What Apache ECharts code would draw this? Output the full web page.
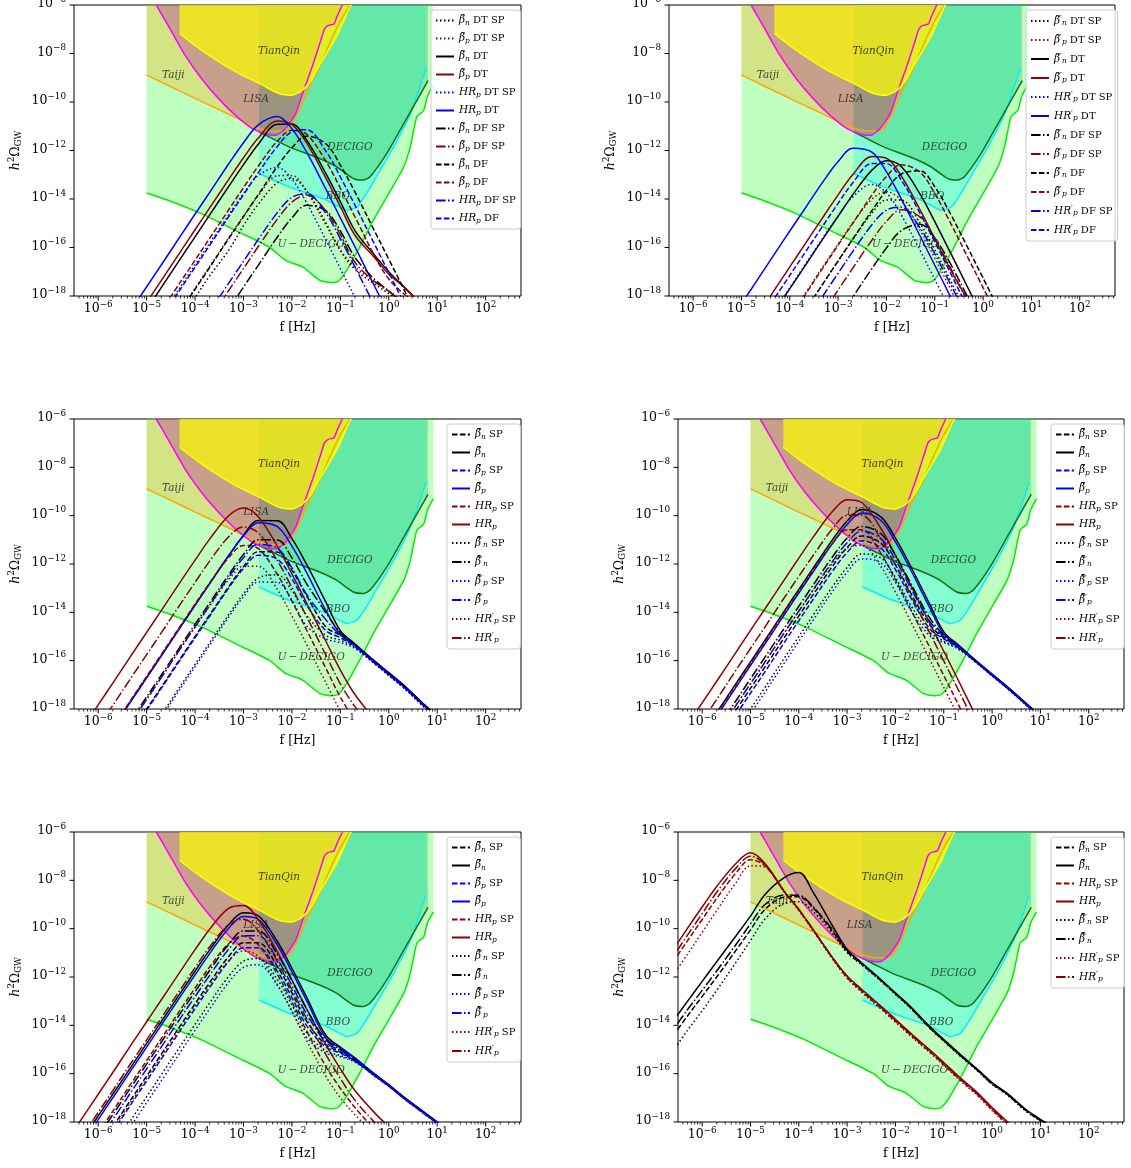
<!DOCTYPE html>
<html><head><meta charset="utf-8">
<script src="https://cdn.jsdelivr.net/npm/echarts@6/dist/echarts.min.js"></script>
<style>html,body{margin:0;padding:0;background:#fff}#c{width:1131px;height:1168px}</style>
</head><body><div id="c"></div>
<script>
const _ = null;
// shared frequency grid (Hz)
const F = [2e-7,5e-7,1e-6,2e-6,5e-6,1e-5,2e-5,5e-5,1e-4,2e-4,5e-4,1e-3,2e-3,5e-3,1e-2,2e-2,5e-2,0.1,0.2,0.5,1,2,5,10,20,50];
const XMIN = 3.162e-7, XMAX = 537, YMIN = 1e-18, YMAX = 1e-6;
const X_MAJOR = [1e-6,1e-5,1e-4,1e-3,1e-2,1e-1,1,10,100];
const X_MAJOR_EXP = ['−6','−5','−4','−3','−2','−1','0','1','2'];
const Y_MAJOR = [1e-18,1e-16,1e-14,1e-12,1e-10,1e-8,1e-6];
const Y_MAJOR_EXP = ['−18','−16','−14','−12','−10','−8','−6'];

// detector sensitivity curves
const UD_F = [1e-5,2.75e-5,1.35e-4,6.76e-4,3.39e-3,7.41e-3,1.66e-2,3.72e-2,6.31e-2,8.91e-2,0.135,0.251,0.479,0.912,2.04,2.82,3.8,5.25,6.31,8.32];
const UD_O = [1.78e-14,8.9e-15,2.5e-15,5.1e-16,1.05e-16,2.95e-17,1.58e-17,4.47e-18,3.55e-18,3.98e-18,1.15e-17,1.05e-16,1.32e-15,1.23e-14,2.14e-13,1.58e-12,2.5e-11,4.47e-11,1.78e-10,5.0e-10];
const BBO_F = [2.09e-3,8.71e-3,4.37e-2,8.32e-2,0.135,0.219,0.347,0.661,1.26,2.82,5.89];
const BBO_O = [1.12e-13,3.16e-14,1.05e-14,5.5e-15,3.47e-15,4.68e-15,1.7e-14,1.55e-13,1.41e-12,3.39e-11,2.5e-9];
const DEC_F = [2.09e-3,3.39e-3,8.71e-3,3.72e-2,8.32e-2,0.186,0.295,0.407,0.912,2.04,4.57,6.46];
const DEC_O = [5.9e-12,3.63e-12,1.41e-12,4.68e-13,2.14e-13,6.92e-14,6.03e-14,8.13e-14,7.59e-13,1.29e-11,2.24e-10,7.59e-10];
const TJ_F = [1e-5,3.16e-5,1e-4,3.16e-4,1e-3,2e-3,3.98e-3,6.31e-3,8.71e-3,1.41e-2,2.29e-2,3.72e-2,6.03e-2,9.77e-2,0.158];
const TJ_O = [1.29e-9,4.27e-10,1.41e-10,4.79e-11,1.58e-11,8.5e-12,6.3e-12,6.3e-12,7.6e-12,4.68e-11,4.27e-10,2.82e-9,2.63e-8,2.04e-7,1e-6];
const LISA_F = [1.58e-5,2.75e-5,6.17e-5,1.35e-4,3.02e-4,6.76e-4,1.51e-3,2.88e-3,4.68e-3,7.41e-3,1.2e-2,1.66e-2,2.69e-2,3.98e-2,4.68e-2,5.5e-2,7.41e-2,8.51e-2,0.11];
const LISA_O = [1e-6,1.48e-7,8.7e-9,9.3e-10,1.41e-10,2.88e-11,8.1e-12,4.68e-12,4.27e-12,8.1e-12,3.39e-11,2.24e-10,3.31e-9,3.63e-8,1e-7,1.41e-7,1.66e-7,3.31e-7,1e-6];
const TQ_F = [4.79e-5,1.35e-4,6.76e-4,2.45e-3,5.37e-3,1.02e-2,1.66e-2,2.51e-2,3.72e-2,8.32e-2,0.158,0.17];
const TQ_O = [6.76e-8,1.38e-8,1.78e-9,5.0e-10,2.24e-10,1.9e-10,3.09e-10,7.9e-10,3.31e-9,4.9e-8,8.5e-7,1e-6];
const DET_LABEL_NAMES = ['TianQin','Taiji','LISA','DECIGO','BBO','U\u2009−\u2009DECIGO'];
const DET_LABEL_F = [5.4e-3,3.55e-5,1.82e-3,0.158,8.9e-2,2.5e-2];
const DET_LABEL_O = [1.29e-8,1.32e-9,1.35e-10,1.41e-12,1.35e-14,1.41e-16];

// ---- panel 1 ----
const P1_bn_DTSP = [_,_,_,_,_,_,_,1.07e-19,8.5e-19,6.8e-18,7.9e-17,8.1e-16,5.9e-15,4.7e-14,6.9e-14,2.2e-14,1.05e-15,7.4e-17,1.26e-17,3.2e-18,1.26e-18,5.0e-19,_,_,_,_];
const P1_bp_DTSP = [_,_,_,_,_,_,_,2.6e-19,2.1e-18,1.66e-17,2.6e-16,2.0e-15,1.35e-14,9.1e-14,9.3e-14,2.1e-14,8.7e-16,7.9e-17,1.6e-17,4.0e-18,1.6e-18,6.3e-19,_,_,_,_];
const P1_bn_DT = [_,_,_,_,_,2.75e-19,2.2e-18,3.5e-17,2.75e-16,2.2e-15,3.4e-14,2.6e-13,1.78e-12,1.2e-11,1.23e-11,2.75e-12,1.15e-13,7.8e-15,5.0e-16,5.0e-17,1.0e-17,2.5e-18,4.0e-19,_,_,_];
const P1_bp_DT = [_,_,_,_,_,5.4e-19,4.3e-18,6.8e-17,5.4e-16,4.3e-15,6.6e-14,5.0e-13,3.2e-12,1.66e-11,1.17e-11,2.1e-12,7.4e-14,4.9e-15,3.2e-16,4.0e-17,7.9e-18,2.5e-18,4.0e-19,_,_,_];
const P1_HRp_DTSP = [_,_,_,_,_,_,1.55e-19,2.45e-18,1.95e-17,1.5e-16,2.3e-15,1.7e-14,9.1e-14,2.0e-13,6.5e-14,7.1e-15,2.1e-16,1.35e-17,8.7e-19,2.2e-20,_,_,_,_,_,_];
const P1_HRp_DT = [_,_,_,_,3.0e-19,2.4e-18,1.9e-17,3.0e-16,2.4e-15,1.86e-14,2.9e-13,2.1e-12,1.12e-11,2.5e-11,7.9e-12,8.7e-13,2.6e-14,1.66e-15,1.07e-16,2.7e-18,1.7e-19,_,_,_,_,_];
const P1_bn_DFSP = [_,_,_,_,_,_,_,_,_,_,2.95e-19,2.35e-18,1.8e-17,2.7e-16,1.66e-15,5.5e-15,3.3e-15,4.8e-16,3.9e-17,5.0e-18,1.6e-18,5.0e-19,_,_,_,_];
const P1_bp_DFSP = [_,_,_,_,_,_,_,_,_,1.1e-19,1.74e-18,1.35e-17,1.07e-16,1.48e-15,7.4e-15,1.45e-14,3.3e-15,3.4e-16,2.45e-17,4.0e-18,1.6e-18,5.0e-19,_,_,_,_];
const P1_bn_DF = [_,_,_,_,_,_,_,2.4e-19,1.9e-18,1.5e-17,2.4e-16,1.86e-15,1.48e-14,2.2e-13,1.29e-12,3.9e-12,1.9e-12,2.5e-13,1.95e-14,5.1e-16,3.3e-17,2.1e-18,5.4e-20,_,_,_];
const P1_bp_DF = [_,_,_,_,_,_,2.4e-19,3.8e-18,3.0e-17,2.4e-16,3.7e-15,2.95e-14,2.2e-13,2.45e-12,6.9e-12,4.7e-12,3.7e-13,2.8e-14,1.86e-15,4.8e-17,5.0e-18,1.26e-18,2.5e-19,_,_,_];
const P1_HRp_DFSP = [_,_,_,_,_,_,_,_,_,2.2e-19,3.5e-18,2.7e-17,2.1e-16,2.75e-15,1.17e-14,1.66e-14,2.6e-15,2.3e-16,1.6e-17,4.2e-19,_,_,_,_,_,_];
const P1_HRp_DF = [_,_,_,_,_,_,1.23e-19,1.95e-18,1.55e-17,1.23e-16,1.95e-15,1.5e-14,1.17e-13,1.48e-12,5.9e-12,7.2e-12,9.5e-13,8.1e-14,5.6e-15,1.45e-16,9.1e-18,5.8e-19,_,_,_,_];

// ---- panel 2 ----
const P2_bn_DTSP = [_,_,_,_,_,_,_,_,_,2.2e-19,3.5e-18,2.75e-17,2.1e-16,2.6e-15,9.1e-15,9.1e-15,9.8e-16,7.9e-17,5.4e-18,1.38e-19,_,_,_,_,_,_];
const P2_bp_DTSP = [_,_,_,_,_,_,_,_,1.4e-19,1.12e-18,1.78e-17,1.38e-16,1.02e-15,9.8e-15,2.0e-14,8.9e-15,5.1e-16,3.7e-17,2.4e-18,6.2e-20,_,_,_,_,_,_];
const P2_bn_DT = [_,_,_,_,_,_,_,2.5e-19,2.0e-18,1.58e-17,2.5e-16,1.95e-15,1.48e-14,1.55e-13,3.8e-13,2.24e-13,1.55e-14,1.17e-15,7.6e-17,1.95e-18,1.23e-19,_,_,_,_,_];
const P2_bp_DT = [_,_,_,_,_,_,1.26e-19,2.0e-18,1.58e-17,1.26e-16,1.95e-15,1.48e-14,1.0e-13,5.6e-13,4.8e-13,9.3e-14,3.5e-15,2.3e-16,1.5e-17,6.3e-19,1.0e-19,_,_,_,_,_];
const P2_HRp_DTSP = [_,_,_,_,_,_,_,2.8e-19,2.2e-18,1.78e-17,2.75e-16,2.0e-15,1.2e-14,4.0e-14,1.78e-14,2.3e-15,7.4e-17,4.8e-18,3.1e-19,_,_,_,_,_,_,_];
const P2_HRp_DT = [_,_,_,_,_,4.8e-19,3.8e-18,6.0e-17,4.8e-16,3.7e-15,5.6e-14,3.5e-13,1.23e-12,8.5e-13,1.32e-13,1.07e-14,2.9e-16,1.86e-17,1.17e-18,2.8e-20,_,_,_,_,_,_];
const P2_bn_DFSP = [_,_,_,_,_,_,_,_,_,_,_,1.1e-19,8.9e-19,1.35e-17,9.5e-17,4.9e-16,9.1e-16,2.45e-16,2.6e-17,7.6e-19,_,_,_,_,_,_];
const P2_bp_DFSP = [_,_,_,_,_,_,_,_,_,_,2.2e-19,1.78e-18,1.38e-17,2.0e-16,1.2e-15,3.6e-15,1.78e-15,2.3e-16,1.8e-17,4.8e-19,_,_,_,_,_,_];
const P2_bn_DF = [_,_,_,_,_,_,_,_,_,2.2e-19,3.5e-18,2.8e-17,2.2e-16,3.3e-15,2.3e-14,1.05e-13,1.45e-13,3.2e-14,3.0e-15,8.5e-17,5.5e-18,3.5e-19,_,_,_,_];
const P2_bp_DF = [_,_,_,_,_,_,_,_,1.26e-19,1.0e-18,1.58e-17,1.26e-16,9.8e-16,1.45e-14,8.5e-14,2.6e-13,1.26e-13,1.66e-14,1.29e-15,3.4e-17,2.2e-18,1.38e-19,_,_,_,_];
const P2_HRp_DFSP = [_,_,_,_,_,_,_,_,_,7.1e-20,1.12e-18,8.7e-18,6.8e-17,8.7e-16,3.5e-15,4.6e-15,6.3e-16,5.5e-17,3.8e-18,9.8e-20,_,_,_,_,_,_];
const P2_HRp_DF = [_,_,_,_,_,_,_,8.9e-19,7.1e-18,5.6e-17,8.7e-16,6.6e-15,4.6e-14,2.9e-13,2.9e-13,6.3e-14,2.5e-15,1.7e-16,1.1e-17,2.75e-19,_,_,_,_,_,_];

// ---- panel 3 ----
const P3_bnSP = [_,_,_,_,1.26e-19,1.0e-18,7.9e-18,1.26e-16,1.0e-15,7.8e-15,1.17e-13,7.8e-13,3.2e-12,3.1e-12,5.6e-13,4.9e-14,2.5e-15,1.12e-15,4.2e-16,8.7e-17,2.75e-17,8.7e-18,1.55e-18,4.4e-19,_,_];
const P3_bn = [_,_,_,1.58e-19,2.5e-18,2.0e-17,1.58e-16,2.5e-15,2.0e-14,1.55e-13,2.3e-12,1.55e-11,6.3e-11,6.2e-11,1.12e-11,9.8e-13,2.7e-14,1.74e-15,5.0e-16,1.0e-16,3.2e-17,1.0e-17,1.78e-18,5.0e-19,_,_];
const P3_bpSP = [_,_,_,_,_,8.9e-19,7.1e-18,1.12e-16,8.9e-16,6.9e-15,1.05e-13,6.5e-13,2.3e-12,1.58e-12,2.45e-13,2.0e-14,1.78e-15,8.9e-16,3.8e-16,8.3e-17,2.6e-17,8.3e-18,1.48e-18,4.2e-19,_,_];
const P3_bp = [_,_,_,1.58e-19,2.5e-18,2.0e-17,1.58e-16,2.5e-15,2.0e-14,1.55e-13,2.3e-12,1.45e-11,5.1e-11,3.5e-11,5.5e-12,4.5e-13,1.2e-14,1.26e-15,4.5e-16,9.3e-17,3.0e-17,9.5e-18,1.7e-18,4.8e-19,_,_];
const P3_HRpSP = [_,_,_,1.78e-19,2.8e-18,2.24e-17,1.78e-16,2.8e-15,2.2e-14,1.66e-13,1.9e-12,5.8e-12,4.4e-12,3.7e-13,2.9e-14,1.9e-15,4.9e-17,3.1e-18,3.2e-19,_,_,_,_,_,_,_];
const P3_HRp = [_,1.86e-19,1.48e-18,1.17e-17,1.86e-16,1.48e-15,1.17e-14,1.86e-13,1.45e-12,1.07e-11,1.02e-10,2.1e-10,9.3e-11,5.4e-12,3.9e-13,2.5e-14,6.5e-16,4.1e-17,4.0e-18,4.0e-19,_,_,_,_,_,_];
const P3_bnpSP = [_,_,_,_,_,_,5.6e-19,8.9e-18,7.1e-17,5.5e-16,8.3e-15,5.8e-14,2.6e-13,3.6e-13,7.9e-14,7.6e-15,1.12e-15,7.1e-16,3.5e-16,7.9e-17,2.5e-17,7.9e-18,1.41e-18,4.0e-19,_,_];
const P3_bnp = [_,_,_,_,4.0e-19,3.2e-18,2.5e-17,4.0e-16,3.2e-15,2.45e-14,3.7e-13,2.45e-12,1.0e-11,9.8e-12,1.78e-12,1.55e-13,1.0e-14,1.41e-15,4.7e-16,9.5e-17,3.0e-17,9.5e-18,1.7e-18,4.8e-19,_,_];
const P3_bppSP = [_,_,_,_,_,_,4.5e-19,7.1e-18,5.6e-17,4.4e-16,6.6e-15,4.4e-14,1.78e-13,1.74e-13,3.2e-14,2.75e-15,7.9e-16,5.6e-16,3.2e-16,7.6e-17,2.4e-17,7.6e-18,1.35e-18,3.8e-19,_,_];
const P3_bpp = [_,_,_,_,3.2e-19,2.5e-18,2.0e-17,3.2e-16,2.5e-15,1.95e-14,2.95e-13,1.82e-12,6.5e-12,4.5e-12,6.9e-13,5.6e-14,5.0e-15,1.12e-15,4.2e-16,8.9e-17,2.8e-17,8.9e-18,1.58e-18,4.5e-19,_,_];
const P3_HRppSP = [_,_,_,_,3.2e-19,2.5e-18,2.0e-17,3.2e-16,2.45e-15,1.86e-14,2.3e-13,8.1e-13,8.1e-13,8.7e-14,7.1e-15,4.8e-16,1.23e-17,7.8e-19,_,_,_,_,_,_,_,_];
const P3_HRpp = [_,_,1.78e-19,1.41e-18,2.24e-17,1.78e-16,1.41e-15,2.24e-14,1.74e-13,1.32e-12,1.38e-11,3.4e-11,2.0e-11,1.38e-12,1.05e-13,6.8e-15,1.74e-16,1.1e-17,1.26e-18,1.26e-19,_,_,_,_,_,_];

// ---- panel 4 ----
const P4_bnSP = [_,_,_,_,8.9e-19,7.1e-18,5.6e-17,8.9e-16,7.1e-15,5.5e-14,8.1e-13,4.8e-12,1.45e-11,7.1e-12,9.3e-13,7.2e-14,3.2e-15,8.9e-16,3.6e-16,7.9e-17,2.5e-17,7.9e-18,1.58e-18,4.5e-19,_,_];
const P4_bn = [_,_,8.9e-20,7.1e-19,1.12e-17,8.9e-17,7.1e-16,1.12e-14,8.9e-14,6.9e-13,1.02e-11,6.0e-11,1.82e-10,8.9e-11,1.17e-11,9.1e-13,2.4e-14,1.55e-15,4.5e-16,8.9e-17,2.8e-17,8.9e-18,1.78e-18,5.0e-19,_,_];
const P4_bpSP = [_,_,_,_,5.6e-19,4.5e-18,3.5e-17,5.6e-16,4.5e-15,3.5e-14,5.1e-13,3.0e-12,9.1e-12,4.5e-12,5.9e-13,4.6e-14,2.2e-15,7.9e-16,3.5e-16,7.8e-17,2.45e-17,7.8e-18,1.55e-18,4.4e-19,_,_];
const P4_bp = [_,_,_,5.0e-19,7.9e-18,6.3e-17,5.0e-16,7.9e-15,6.3e-14,4.9e-13,7.2e-12,4.3e-11,1.29e-10,6.3e-11,8.3e-12,6.5e-13,1.7e-14,1.26e-15,4.2e-16,8.5e-17,2.7e-17,8.5e-18,1.7e-18,4.8e-19,_,_];
const P4_HRpSP = [_,_,_,6.3e-19,1.0e-17,7.9e-17,6.3e-16,1.0e-14,7.8e-14,5.9e-13,7.2e-12,2.6e-11,2.6e-11,2.75e-12,2.2e-13,1.51e-14,3.9e-16,2.45e-17,1.55e-18,3.7e-20,_,_,_,_,_,_];
const P4_HRp = [_,2.2e-19,1.78e-18,1.41e-17,2.2e-16,1.78e-15,1.41e-14,2.2e-13,1.74e-12,1.32e-11,1.51e-10,4.6e-10,3.5e-10,2.95e-11,2.3e-12,1.51e-13,3.9e-15,2.45e-16,1.55e-17,3.7e-19,_,_,_,_,_,_];
const P4_bnpSP = [_,_,_,_,1.26e-19,1.0e-18,7.9e-18,1.26e-16,1.0e-15,7.8e-15,1.17e-13,7.2e-13,2.6e-12,1.78e-12,2.75e-13,2.2e-14,1.58e-15,6.3e-16,3.2e-16,7.6e-17,2.4e-17,7.6e-18,1.51e-18,4.3e-19,_,_];
const P4_bnp = [_,_,_,1.41e-19,2.2e-18,1.78e-17,1.41e-16,2.2e-15,1.78e-14,1.38e-13,2.0e-12,1.2e-11,3.6e-11,1.78e-11,2.3e-12,1.82e-13,6.3e-15,1.12e-15,4.0e-16,8.3e-17,2.6e-17,8.3e-18,1.66e-18,4.7e-19,_,_];
const P4_bppSP = [_,_,_,_,_,6.3e-19,5.0e-18,7.9e-17,6.3e-16,4.9e-15,7.4e-14,4.6e-13,1.62e-12,1.12e-12,1.74e-13,1.41e-14,1.12e-15,5.6e-16,3.0e-16,7.4e-17,2.35e-17,7.4e-18,1.48e-18,4.2e-19,_,_];
const P4_bpp = [_,_,_,8.9e-20,1.41e-18,1.12e-17,8.9e-17,1.41e-15,1.12e-14,8.7e-14,1.29e-12,7.6e-12,2.3e-11,1.12e-11,1.48e-12,1.15e-13,4.5e-15,1.0e-15,3.8e-16,8.1e-17,2.6e-17,8.1e-18,1.62e-18,4.6e-19,_,_];
const P4_HRppSP = [_,_,_,8.9e-20,1.41e-18,1.12e-17,8.9e-17,1.41e-15,1.1e-14,8.5e-14,1.1e-12,4.5e-12,5.8e-12,7.9e-13,6.9e-14,4.8e-15,1.23e-16,7.8e-18,4.9e-19,_,_,_,_,_,_,_];
const P4_HRpp = [_,_,3.2e-19,2.5e-18,4.0e-17,3.2e-16,2.5e-15,4.0e-14,3.1e-13,2.3e-12,2.9e-11,1.02e-10,1.02e-10,1.1e-11,8.9e-13,6.0e-14,1.55e-15,9.8e-17,6.2e-18,1.48e-19,_,_,_,_,_,_];

// ---- panel 5 ----
const P5_bnSP = [_,_,_,6.3e-19,1.0e-17,7.9e-17,6.3e-16,1.0e-14,7.8e-14,5.9e-13,7.2e-12,2.6e-11,2.6e-11,2.75e-12,2.2e-13,1.51e-14,1.58e-15,7.9e-16,3.5e-16,8.9e-17,3.2e-17,1.02e-17,2.6e-18,9.1e-19,2.9e-19,_];
const P5_bn = [_,2.2e-19,1.78e-18,1.41e-17,2.2e-16,1.78e-15,1.41e-14,2.2e-13,1.74e-12,1.32e-11,1.51e-10,4.6e-10,3.5e-10,2.95e-11,2.3e-12,1.51e-13,3.9e-15,1.26e-15,4.5e-16,1.0e-16,3.5e-17,1.12e-17,2.8e-18,1.0e-18,3.2e-19,_];
const P5_bpSP = [_,_,_,4.0e-19,6.3e-18,5.0e-17,4.0e-16,6.3e-15,4.9e-14,3.7e-13,4.6e-12,1.62e-11,1.62e-11,1.74e-12,1.41e-13,1.0e-14,1.26e-15,7.1e-16,3.4e-16,8.7e-17,3.1e-17,1.0e-17,2.5e-18,8.9e-19,2.8e-19,_];
const P5_bp = [_,1.58e-19,1.26e-18,1.0e-17,1.58e-16,1.26e-15,1.0e-14,1.58e-13,1.23e-12,9.3e-12,1.07e-10,3.2e-10,2.45e-10,2.1e-11,1.62e-12,1.07e-13,3.0e-15,1.15e-15,4.3e-16,9.8e-17,3.4e-17,1.1e-17,2.75e-18,9.8e-19,3.1e-19,_];
const P5_HRpSP = [_,_,3.5e-19,2.8e-18,4.5e-17,3.5e-16,2.8e-15,4.5e-14,3.5e-13,2.6e-12,2.45e-11,5.0e-11,2.2e-11,1.29e-12,9.3e-14,6.0e-15,2.0e-16,2.5e-17,4.0e-18,5.0e-19,_,_,_,_,_,_];
const P5_HRp = [1.12e-19,1.78e-18,1.41e-17,1.12e-16,1.78e-15,1.41e-14,1.12e-13,1.74e-12,1.35e-11,9.5e-11,7.1e-10,9.1e-10,2.45e-10,1.1e-11,7.6e-13,4.9e-14,1.58e-15,1.58e-16,2.0e-17,2.5e-18,6.3e-19,_,_,_,_,_];
const P5_bnpSP = [_,_,_,8.9e-20,1.41e-18,1.12e-17,8.9e-17,1.41e-15,1.1e-14,8.5e-14,1.1e-12,4.5e-12,5.8e-12,7.9e-13,6.9e-14,5.0e-15,8.9e-16,5.6e-16,3.2e-16,8.3e-17,3.0e-17,9.8e-18,2.45e-18,8.7e-19,2.75e-19,_];
const P5_bnp = [_,_,2.5e-19,2.0e-18,3.2e-17,2.5e-16,2.0e-15,3.2e-14,2.45e-13,1.86e-12,2.3e-11,8.1e-11,8.1e-11,8.7e-12,7.1e-13,4.8e-14,2.5e-15,1.0e-15,4.0e-16,9.3e-17,3.3e-17,1.07e-17,2.7e-18,9.5e-19,3.0e-19,_];
const P5_bppSP = [_,_,_,_,7.9e-19,6.3e-18,5.0e-17,7.9e-16,6.2e-15,4.8e-14,6.2e-13,2.5e-12,3.2e-12,4.5e-13,3.9e-14,3.2e-15,7.1e-16,5.0e-16,3.0e-16,8.1e-17,3.0e-17,9.5e-18,2.4e-18,8.5e-19,2.7e-19,_];
const P5_bpp = [_,_,1.58e-19,1.26e-18,2.0e-17,1.58e-16,1.26e-15,2.0e-14,1.55e-13,1.17e-12,1.45e-11,5.1e-11,5.1e-11,5.5e-12,4.5e-13,3.0e-14,2.0e-15,8.9e-16,3.8e-16,9.1e-17,3.2e-17,1.05e-17,2.6e-18,9.3e-19,3.0e-19,_];
const P5_HRppSP = [_,_,_,5.0e-19,7.9e-18,6.3e-17,5.0e-16,7.9e-15,6.2e-14,4.7e-13,4.9e-12,1.2e-11,7.1e-12,4.9e-13,3.7e-14,2.4e-15,7.9e-17,1.0e-17,2.0e-18,3.2e-19,_,_,_,_,_,_];
const P5_HRpp = [_,3.2e-19,2.5e-18,2.0e-17,3.2e-16,2.5e-15,2.0e-14,3.1e-13,2.45e-12,1.78e-11,1.48e-10,2.45e-10,8.3e-11,4.3e-12,3.0e-13,1.95e-14,6.3e-16,6.3e-17,7.9e-18,1.0e-18,2.5e-19,_,_,_,_,_];

// ---- panel 6 ----
const P6_bnSP = [2.0e-15,2.5e-14,1.58e-13,1.0e-12,1.26e-11,8.9e-11,6.3e-10,2.0e-9,2.1e-9,7.1e-10,7.9e-11,1.12e-11,3.4e-12,7.1e-13,2.0e-13,5.6e-14,8.3e-15,2.3e-15,6.6e-16,1.35e-16,3.8e-17,1.45e-17,3.0e-18,1.15e-18,4.5e-19,_];
const P6_bn = [8.1e-15,1.0e-13,6.6e-13,4.3e-12,5.0e-11,3.3e-10,2.6e-9,1.29e-8,2.1e-8,3.1e-9,1.29e-10,1.38e-11,3.9e-12,7.9e-13,2.2e-13,6.3e-14,9.3e-15,2.6e-15,7.4e-16,1.5e-16,4.3e-17,1.6e-17,3.3e-18,1.29e-18,5.0e-19,_];
const P6_HRpSP = [2.2e-12,3.2e-11,2.4e-10,1.78e-9,2.0e-8,7.1e-8,4.0e-8,3.4e-9,6.0e-10,8.5e-11,5.9e-12,9.5e-13,2.6e-13,5.2e-14,1.48e-14,4.2e-15,8.5e-16,2.4e-16,6.6e-17,1.35e-17,3.3e-18,9.1e-19,2.1e-19,_,_,_];
const P6_HRp = [6.9e-12,1.05e-10,7.9e-10,5.6e-9,5.0e-8,1.38e-7,5.0e-8,3.5e-9,6.3e-10,8.9e-11,6.3e-12,1.1e-12,3.1e-13,6.3e-14,1.78e-14,5.0e-15,1.02e-15,2.9e-16,7.9e-17,1.6e-17,4.0e-18,1.1e-18,2.5e-19,_,_,_];
const P6_bnpSP = [4.5e-16,6.3e-15,4.0e-14,2.8e-13,4.0e-12,3.2e-11,2.5e-10,1.12e-9,1.3e-9,5.0e-10,6.3e-11,1.0e-11,3.2e-12,6.8e-13,1.9e-13,5.4e-14,7.9e-15,2.2e-15,6.3e-16,1.29e-16,3.6e-17,1.38e-17,2.8e-18,1.1e-18,4.3e-19,_];
const P6_bnp = [3.5e-15,4.5e-14,2.8e-13,1.78e-12,2.2e-11,1.58e-10,1.0e-9,2.5e-9,2.4e-9,7.9e-10,8.9e-11,1.26e-11,3.6e-12,7.4e-13,2.1e-13,5.9e-14,8.7e-15,2.45e-15,6.9e-16,1.41e-16,4.0e-17,1.5e-17,3.1e-18,1.2e-18,4.7e-19,_];
const P6_HRppSP = [6.3e-13,8.9e-12,7.1e-11,5.6e-10,7.9e-9,4.0e-8,3.5e-8,3.2e-9,5.6e-10,7.9e-11,5.5e-12,8.7e-13,2.3e-13,4.8e-14,1.35e-14,3.8e-15,7.8e-16,2.2e-16,6.0e-17,1.23e-17,3.0e-18,8.3e-19,1.9e-19,_,_,_];
const P6_HRpp = [3.5e-12,5.5e-11,4.2e-10,3.2e-9,3.2e-8,1.0e-7,4.5e-8,3.5e-9,6.3e-10,8.9e-11,6.3e-12,1.05e-12,2.8e-13,5.8e-14,1.62e-14,4.6e-15,9.3e-16,2.6e-16,7.2e-17,1.48e-17,3.6e-18,1.0e-18,2.3e-19,_,_,_];

const COL = {k:'#000000', r:'#8b0000', b:'#0000ff'};
const DASH = {solid:'solid', dot:[1.5,2.5], dash:[5.5,2.4], dashdot:[9.6,2.4,1.5,2.4]};
const BT = 'β\u0303', BB = 'β\u0303\u0304';
function L(sym, pr, sub, txt){ return '{g|'+sym+'}'+(pr?'{q|′}':'')+'{s|'+sub+'}'+(txt?'{t| '+txt+'}':''); }
function sixDefs(d){ return [
  [L(BB,0,'n','SP'),'k','dash',d[0]],[L(BB,0,'n',''),'k','solid',d[1]],
  [L(BB,0,'p','SP'),'b','dash',d[2]],[L(BB,0,'p',''),'b','solid',d[3]],
  [L('HR',0,'p','SP'),'r','dash',d[4]],[L('HR',0,'p',''),'r','solid',d[5]],
  [L(BB,1,'n','SP'),'k','dot',d[6]],[L(BB,1,'n',''),'k','dashdot',d[7]],
  [L(BB,1,'p','SP'),'b','dot',d[8]],[L(BB,1,'p',''),'b','dashdot',d[9]],
  [L('HR',1,'p','SP'),'r','dot',d[10]],[L('HR',1,'p',''),'r','dashdot',d[11]]]; }

const PANELS = [
 {grid:{left:74,top:5,width:447,height:291}, leg:{left:431,top:10}, defs:[
  [L(BT,0,'n','DT SP'),'k','dot',P1_bn_DTSP],[L(BT,0,'p','DT SP'),'r','dot',P1_bp_DTSP],
  [L(BT,0,'n','DT'),'k','solid',P1_bn_DT],[L(BT,0,'p','DT'),'r','solid',P1_bp_DT],
  [L('HR',0,'p','DT SP'),'b','dot',P1_HRp_DTSP],[L('HR',0,'p','DT'),'b','solid',P1_HRp_DT],
  [L(BT,0,'n','DF SP'),'k','dashdot',P1_bn_DFSP],[L(BT,0,'p','DF SP'),'r','dashdot',P1_bp_DFSP],
  [L(BT,0,'n','DF'),'k','dash',P1_bn_DF],[L(BT,0,'p','DF'),'r','dash',P1_bp_DF],
  [L('HR',0,'p','DF SP'),'b','dashdot',P1_HRp_DFSP],[L('HR',0,'p','DF'),'b','dash',P1_HRp_DF]]},
 {grid:{left:669,top:5,width:446,height:291}, leg:{left:1026,top:10}, defs:[
  [L(BT,1,'n','DT SP'),'k','dot',P2_bn_DTSP],[L(BT,1,'p','DT SP'),'r','dot',P2_bp_DTSP],
  [L(BT,1,'n','DT'),'k','solid',P2_bn_DT],[L(BT,1,'p','DT'),'r','solid',P2_bp_DT],
  [L('HR',1,'p','DT SP'),'b','dot',P2_HRp_DTSP],[L('HR',1,'p','DT'),'b','solid',P2_HRp_DT],
  [L(BT,1,'n','DF SP'),'k','dashdot',P2_bn_DFSP],[L(BT,1,'p','DF SP'),'r','dashdot',P2_bp_DFSP],
  [L(BT,1,'n','DF'),'k','dash',P2_bn_DF],[L(BT,1,'p','DF'),'r','dash',P2_bp_DF],
  [L('HR',1,'p','DF SP'),'b','dashdot',P2_HRp_DFSP],[L('HR',1,'p','DF'),'b','dash',P2_HRp_DF]]},
 {grid:{left:74,top:419,width:447,height:290}, leg:{left:447,top:424},
  defs:sixDefs([P3_bnSP,P3_bn,P3_bpSP,P3_bp,P3_HRpSP,P3_HRp,P3_bnpSP,P3_bnp,P3_bppSP,P3_bpp,P3_HRppSP,P3_HRpp])},
 {grid:{left:678,top:419,width:446,height:290}, leg:{left:1051,top:424},
  defs:sixDefs([P4_bnSP,P4_bn,P4_bpSP,P4_bp,P4_HRpSP,P4_HRp,P4_bnpSP,P4_bnp,P4_bppSP,P4_bpp,P4_HRppSP,P4_HRpp])},
 {grid:{left:74,top:832,width:447,height:290}, leg:{left:447,top:837},
  defs:sixDefs([P5_bnSP,P5_bn,P5_bpSP,P5_bp,P5_HRpSP,P5_HRp,P5_bnpSP,P5_bnp,P5_bppSP,P5_bpp,P5_HRppSP,P5_HRpp])},
 {grid:{left:678,top:832,width:446,height:290}, leg:{left:1051,top:837}, defs:[
  [L(BB,0,'n','SP'),'k','dash',P6_bnSP],[L(BB,0,'n',''),'k','solid',P6_bn],
  [L('HR',0,'p','SP'),'r','dash',P6_HRpSP],[L('HR',0,'p',''),'r','solid',P6_HRp],
  [L(BB,1,'n','SP'),'k','dot',P6_bnpSP],[L(BB,1,'n',''),'k','dashdot',P6_bnp],
  [L('HR',1,'p','SP'),'r','dot',P6_HRppSP],[L('HR',1,'p',''),'r','dashdot',P6_HRpp]]}
];

const DETS = [
 {f:UD_F,o:UD_O,line:'#00ee00',fill:'rgba(0,255,0,0.25)'},
 {f:BBO_F,o:BBO_O,line:'#00eeff',fill:'rgba(0,255,255,0.3)'},
 {f:DEC_F,o:DEC_O,line:'#127012',fill:'rgba(27,178,70,0.3)'},
 {f:TJ_F,o:TJ_O,line:'#ffa500',fill:'rgba(255,165,0,0.3)'},
 {f:LISA_F,o:LISA_O,line:'#ff00ff',fill:'rgba(177,0,154,0.3)'},
 {f:TQ_F,o:TQ_O,line:'#ffff00',fill:'rgba(255,255,0,0.7)'}
];

const SERIF = 'DejaVu Serif';
const LEG_RICH = {
  g:{fontFamily:SERIF,fontStyle:'italic',fontSize:10.5,color:'#000',lineHeight:14},
  q:{fontFamily:SERIF,fontSize:8,color:'#000',padding:[0,0,6,0],lineHeight:14},
  s:{fontFamily:SERIF,fontStyle:'italic',fontSize:7.5,color:'#000',padding:[5,0,0,0],lineHeight:14},
  t:{fontFamily:SERIF,fontSize:10,color:'#000',lineHeight:14}
};
const TICK_RICH = {
  b:{fontFamily:SERIF,fontSize:12.5,fill:'#000'},
  s:{fontFamily:SERIF,fontSize:8.8,fill:'#000',padding:[0,0,9,0]}
};

function pairs(xs, ys){ const out=[]; for(let i=0;i<xs.length;i++){ if(ys[i]!=null) out.push([xs[i], ys[i]]); } return out; }

const grids=[], xAxes=[], yAxes=[], series=[], legends=[];
PANELS.forEach((P, gi) => {
  grids.push(Object.assign({show:true, borderColor:'#000', borderWidth:1, backgroundColor:'#fff'}, P.grid));
  xAxes.push({type:'log', logBase:10, gridIndex:gi, min:XMIN, max:XMAX,
    axisLine:{show:false}, axisTick:{show:false}, axisLabel:{show:false}, splitLine:{show:false},
    name:'f [Hz]', nameLocation:'middle', nameGap:25, nameTextStyle:{fontFamily:SERIF, fontSize:12.5, color:'#000'}});
  yAxes.push({type:'log', logBase:10, gridIndex:gi, min:YMIN, max:YMAX,
    axisLine:{show:false}, axisTick:{show:false}, axisLabel:{show:false}, splitLine:{show:false},
    name:'{i|h}{p|2}{o|Ω}{s|GW}', nameLocation:'middle', nameGap:50,
    nameTextStyle:{fontFamily:SERIF, fontSize:12.5, color:'#000', rich:{
      i:{fontFamily:SERIF,fontStyle:'italic',fontSize:12.5}, p:{fontFamily:SERIF,fontSize:8.5,padding:[0,0,8,0]},
      o:{fontFamily:SERIF,fontSize:12.5}, s:{fontFamily:SERIF,fontSize:8.5,padding:[6,0,0,0]}}}});
  DETS.forEach(d => series.push({type:'line', xAxisIndex:gi, yAxisIndex:gi, data:pairs(d.f,d.o), symbol:'none',
    smooth:0.2, silent:true, z:1, lineStyle:{color:d.line, width:1.5}, areaStyle:{color:d.fill, origin:'end', opacity:1}}));
  series.push({type:'scatter', xAxisIndex:gi, yAxisIndex:gi, silent:true, z:2, symbolSize:1,
    itemStyle:{color:'rgba(0,0,0,0)'},
    data: DET_LABEL_NAMES.map((n,i)=>({name:n, value:[DET_LABEL_F[i], DET_LABEL_O[i]]})),
    label:{show:true, position:'inside', formatter:'{b}', fontFamily:SERIF, fontStyle:'italic', fontSize:10.5, color:'#1a1a1a'}});
  const names=[];
  P.defs.forEach((d, k) => {
    const nm = d[0] + '\u200b'.repeat(gi);
    names.push(nm);
    series.push({type:'line', name:nm, xAxisIndex:gi, yAxisIndex:gi, data:pairs(F, d[3]), symbol:'none',
      smooth:0.35, silent:true, z:5, clip:true,
      lineStyle:{color:COL[d[1]], width:1.5, type:DASH[d[2]]}, itemStyle:{color:COL[d[1]]}});
  });
  legends.push({orient:'vertical', left:P.leg.left, top:P.leg.top, data:names, selectedMode:false,
    itemWidth:18, itemHeight:10, itemGap:5, padding:[4,5,4,4],
    itemStyle:{color:'rgba(0,0,0,0)', borderColor:'rgba(0,0,0,0)', borderWidth:0, opacity:0},
    backgroundColor:'rgba(255,255,255,0.8)', borderColor:'#cccccc', borderWidth:1, borderRadius:3,
    formatter: n => n.replace(/\u200b/g,''),
    textStyle:{fontFamily:SERIF, fontSize:10, color:'#000', rich:LEG_RICH}});
  series.push({type:'custom', xAxisIndex:gi, yAxisIndex:gi, silent:true, z:20, clip:false,
    data:[[XMIN, YMIN]],
    renderItem:function(params, api){
      const ch=[];
      const lb = api.coord([XMIN, YMIN]);
      const left = lb[0], bottom = lb[1];
      X_MAJOR.forEach((v,i)=>{
        const x = api.coord([v, YMIN])[0];
        ch.push({type:'line', shape:{x1:x,y1:bottom,x2:x,y2:bottom+4.5}, style:{stroke:'#000',lineWidth:1}});
        ch.push({type:'text', x:x, y:bottom+13, style:{text:'{b|10}{s|'+X_MAJOR_EXP[i]+'}', rich:TICK_RICH, align:'center', verticalAlign:'middle', fill:'#000'}});
      });
      for(let k=-7;k<=2;k++){
        for(let m=2;m<=9;m++){
          const v = m*Math.pow(10,k);
          if(v<=XMIN || v>=XMAX) continue;
          const x = api.coord([v, YMIN])[0];
          ch.push({type:'line', shape:{x1:x,y1:bottom,x2:x,y2:bottom+2.5}, style:{stroke:'#000',lineWidth:0.8}});
        }
      }
      Y_MAJOR.forEach((v,i)=>{
        const y = api.coord([XMIN, v])[1];
        ch.push({type:'line', shape:{x1:left-4.5,y1:y,x2:left,y2:y}, style:{stroke:'#000',lineWidth:1}});
        ch.push({type:'text', x:left-8, y:y-1, style:{text:'{b|10}{s|'+Y_MAJOR_EXP[i]+'}', rich:TICK_RICH, align:'right', verticalAlign:'middle', fill:'#000'}});
      });
      return {type:'group', children:ch};
    }});
});

const chart = echarts.init(document.getElementById('c'), null, {renderer:'canvas'});
chart.setOption({animation:false, backgroundColor:'#fff', grid:grids, xAxis:xAxes, yAxis:yAxes, legend:legends, series:series});
</script></body></html>
